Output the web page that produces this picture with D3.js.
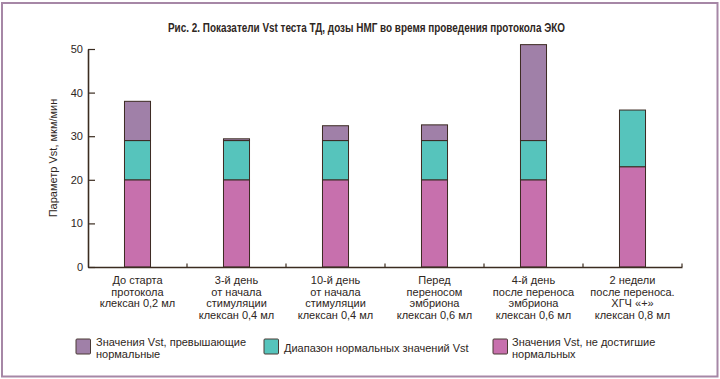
<!DOCTYPE html>
<html><head><meta charset="utf-8">
<script src="https://cdn.jsdelivr.net/npm/d3@7"></script>
<style>
body{margin:0;background:#fff;}
text{font-family:"Liberation Sans",Arial,sans-serif;fill:#2e2622;}
</style></head>
<body>
<svg id="c" width="720" height="379"></svg>
<script>
const title = "Рис. 2. Показатели Vst теста ТД, дозы НМГ во время проведения протокола ЭКО";
const categories = [
  ["До старта","протокола","клексан 0,2 мл"],
  ["3-й день","от начала","стимуляции","клексан 0,4 мл"],
  ["10-й день","от начала","стимуляции","клексан 0,4 мл"],
  ["Перед","переносом","эмбриона","клексан 0,6 мл"],
  ["4-й день","после переноса","эмбриона","клексан 0,6 мл"],
  ["2 недели","после переноса.","ХГЧ «+»","клексан 0,8 мл"]
];
const belowNormal = [20, 20, 20, 20, 20, 23];
const normalRange = [9, 9, 9, 9, 9, 13];
const aboveNormal = [9, 0.4, 3.4, 3.6, 22, 0];
const yTicks = [0, 10, 20, 30, 40, 50];
const yLabel = "Параметр Vst, мкм/мин";
const seriesKeys = ["low", "norm", "high"];
const legendLabels = {
  high: ["Значения Vst, превышающие", "нормальные"],
  norm: ["Диапазон нормальных значений Vst"],
  low: ["Значения Vst, не достигшие", "нормальных"]
};
const colors = {high: "#a080a8", norm: "#56c4bc", low: "#c770ad"};

const svg = d3.select("#c");
svg.append("rect").attr("x",2).attr("y",3).attr("width",715.5).attr("height",373.5)
  .attr("fill","none").attr("stroke","#a687a6").attr("stroke-width",2);

svg.append("text").attr("x",168).attr("y",32)
  .attr("textLength",397).attr("lengthAdjust","spacingAndGlyphs")
  .style("font-weight","bold").style("font-size","12px").text(title);

const data = categories.map((c,i)=>({idx:i, low:belowNormal[i], norm:normalRange[i], high:aboveNormal[i]}));
const x = d3.scaleBand().domain(d3.range(categories.length)).range([88,682])
  .paddingInner(0.737).paddingOuter(0.3685);
const y = d3.scaleLinear().domain([0,50]).range([267,49]);

const stack = d3.stack().keys(seriesKeys)(data);
const g = svg.append("g");
stack.forEach(s=>{
  g.selectAll(null).data(s).join("rect")
    .attr("x", d=>x(d.data.idx))
    .attr("width", x.bandwidth())
    .attr("y", d=>y(d[1]))
    .attr("height", d=>Math.max(0, y(d[0])-y(d[1])))
    .attr("fill", colors[s.key])
    .attr("stroke", d=> (d[1]-d[0])>0 ? "#3b2a22" : "none")
    .attr("stroke-width", 1);
});

// Y axis
const yAxis = d3.axisLeft(y).tickValues(yTicks).tickSizeInner(-7).tickSizeOuter(0).tickPadding(5);
const ya = svg.append("g").attr("transform","translate(88,0)").call(yAxis);
ya.select(".domain").attr("stroke","#3b2c20").attr("stroke-width",1.6);
ya.selectAll(".tick line").attr("stroke","#3b2c20").attr("stroke-width",1.2);
ya.selectAll(".tick text").style("font-family",'"Liberation Sans",Arial,sans-serif').style("font-size","11px").attr("fill","#2e2622");

// X axis
const xAxis = d3.axisBottom(x).tickSize(0).tickFormat("");
const xa = svg.append("g").attr("transform","translate(0,267)").call(xAxis);
xa.select(".domain").attr("stroke","#3b2c20").attr("stroke-width",1.6);
const step = x.step();
const bounds = d3.range(categories.length).map(i=> x(i) + x.bandwidth() + (step - x.bandwidth())/2);
xa.selectAll(".bt").data(bounds).join("line")
  .attr("x1",d=>d).attr("x2",d=>d).attr("y1",0).attr("y2",-3.5)
  .attr("stroke","#3b2c20").attr("stroke-width",1.2);

// category labels
const lab = svg.append("g");
categories.forEach((lines,i)=>{
  const t = lab.append("text").attr("text-anchor","middle").style("font-size","11px");
  lines.forEach((ln,j)=>{
    t.append("tspan").attr("x", x(i)+x.bandwidth()/2).attr("y", 284 + j*11.7).text(ln);
  });
});

// y label
svg.append("text").attr("transform","translate(57,158) rotate(-90)").attr("text-anchor","middle")
  .style("font-size","11px").text(yLabel);

// legend
const legendPos = {high:{x:76, tx:96}, norm:{x:264, tx:284}, low:{x:493, tx:512}};
["high","norm","low"].forEach(k=>{
  const p = legendPos[k];
  svg.append("rect").attr("x",p.x).attr("y",339).attr("width",14.5).attr("height",15)
    .attr("fill",colors[k]).attr("stroke","#4a3a34").attr("stroke-width",1).attr("rx",1);
  const lines = legendLabels[k];
  const t = svg.append("text").style("font-size","11px");
  const y0 = lines.length===1 ? 351.5 : 345.5;
  lines.forEach((ln,j)=> t.append("tspan").attr("x",p.tx).attr("y",y0 + j*12.5).text(ln));
});
</script>
</body></html>
